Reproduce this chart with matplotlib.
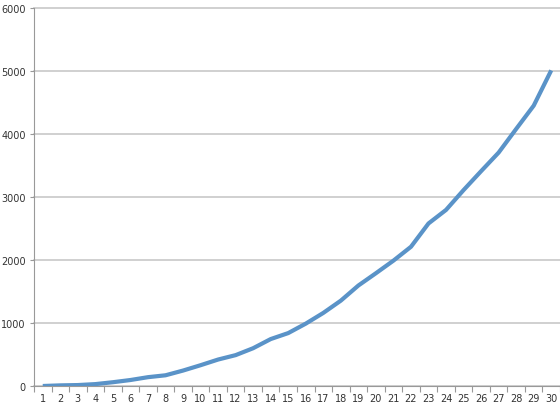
import matplotlib
matplotlib.use("Agg")
import matplotlib.pyplot as plt
import numpy as np

# values
days = list(range(1, 31))
totals = [0, 10, 15, 30, 60, 95, 140, 170, 245, 330,
          420, 490, 600, 745, 840, 990, 1160, 1355, 1595, 1790,
          1990, 2210, 2580, 2795, 3110, 3410, 3705, 4080, 4450, 5010]
y_ticks = [0, 1000, 2000, 3000, 4000, 5000, 6000]

fig = plt.figure(figsize=(5.6, 4.1), dpi=100)
ax = fig.add_axes([34 / 560, 1 - 387 / 410, 1 - 34 / 560, (387 - 9) / 410])

x = np.arange(len(days))
ax.plot(x, totals, color="#5a93c8", linewidth=3, solid_capstyle="butt",
        solid_joinstyle="round", zorder=3)

ax.set_xlim(-0.5, len(days) - 0.5)
ax.set_ylim(0, 6000)
ax.set_yticks(y_ticks)
ax.set_yticklabels([str(v) for v in y_ticks])
ax.set_xticks(x)
ax.set_xticklabels([str(d) for d in days])
# category boundaries get the tick marks
ax.set_xticks(np.arange(len(days) + 1) - 0.5, minor=True)
ax.tick_params(axis="x", which="major", length=0, pad=5)
ax.tick_params(axis="x", which="minor", length=4, color="#999999", width=0.8)
ax.tick_params(axis="y", length=3, color="#999999", width=0.8, pad=3)
ax.tick_params(labelsize=7, labelcolor="#333333")

ax.grid(axis="y", color="#c8c8c8", linewidth=1.2, zorder=0)
for line in ax.get_ygridlines():
    line.set_clip_on(False)
ax.set_axisbelow(True)
for side in ("top", "right"):
    ax.spines[side].set_visible(False)
for side in ("left", "bottom"):
    ax.spines[side].set_color("#999999")
    ax.spines[side].set_linewidth(0.8)

fig.savefig("out.png", dpi=100)
